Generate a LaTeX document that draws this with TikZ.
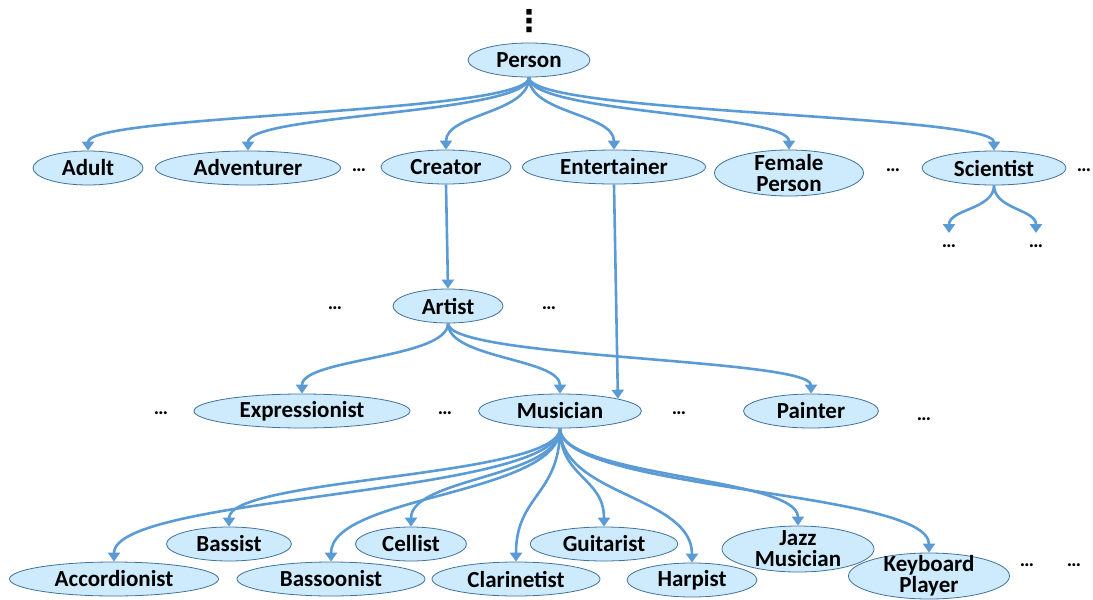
\documentclass[tikz,border=0pt]{standalone}
\usepackage{fontspec}
\setmainfont{Carlito}
\newfontfamily\symfont{DejaVu Sans}
\usetikzlibrary{shapes.geometric,arrows.meta,calc}
\definecolor{conceptfill}{HTML}{CDEBFC}
\definecolor{conceptline}{HTML}{41719C}
\definecolor{isablue}{HTML}{5B9BD5}
\tikzset{
  concept/.style={ellipse, draw=conceptline, fill=conceptfill, line width=0.8pt,
    inner sep=0pt, minimum height=34pt, align=center,
    font=\bfseries\fontsize{23}{21}\selectfont},
  twoline/.style={minimum height=46pt, inner ysep=-6pt},
  more/.style={inner sep=0pt, font=\bfseries\fontsize{20}{20}\selectfont},
  isa/.style={draw=isablue, line width=2.6pt, -{Triangle[width=12pt,length=9pt]}},
  bend down/.style={to path={.. controls ($(\tikztostart)!0.5!(\tikztostart|-\tikztotarget)$)
    and ($(\tikztotarget)!0.5!(\tikztotarget|-\tikztostart)$) .. (\tikztotarget)}}
}

\begin{document}
\begin{tikzpicture}[x=1pt,y=-1pt]
  \useasboundingbox (0,0) rectangle (1093,600);

  \node (top) at (529,21) {\symfont\bfseries\fontsize{30}{30}\selectfont ⋮};
  \node (P) [concept, minimum width=122pt] at (529,60) {Person};

  % first level
  \node (Adu) [concept, minimum width=110pt] at (88,168) {Adult};
  \node (Adv) [concept, minimum width=185pt] at (248,168) {Adventurer};
  \node (m1) [more] at (359,170) {…};
  \node (Cre) [concept, minimum width=130pt] at (446,167) {Creator};
  \node (Ent) [concept, minimum width=183pt] at (614,167) {Entertainer};
  \node (Fem) [concept, twoline, minimum width=149pt] at (789,173) {Female\\Person};
  \node (m2) [more] at (893,170) {…};
  \node (Sci) [concept, minimum width=144pt] at (994,168) {Scientist};
  \node (m3) [more] at (1084,170) {…};
  \coordinate (s1) at (949,233);
  \coordinate (s2) at (1036,233);
  \node (m4) [more] at (949,246) {…};
  \node (m5) [more] at (1036,246) {…};

  % second level
  \node (Art) [concept, minimum width=110pt] at (448,306) {Artist};
  \node (m6) [more] at (335,308) {…};
  \node (m7) [more] at (549,308) {…};

  \node (Exp) [concept, minimum width=216pt] at (302,411) {Expressionist};
  \node (Mus) [concept, minimum width=163pt] at (560,411) {Musician};
  \node (Pai) [concept, minimum width=135pt] at (811,411) {Painter};
  \node (m8) [more] at (161,413) {…};
  \node (m9) [more] at (445,413) {…};
  \node (m10) [more] at (679,413) {…};
  \node (m11) [more] at (924,419) {…};

  % musicians
  \node (Acc) [concept, minimum width=209pt] at (114,579) {Accordionist};
  \node (Bas) [concept, minimum width=125pt] at (229,544) {Bassist};
  \node (Bsn) [concept, minimum width=188pt] at (331,579) {Bassoonist};
  \node (Cel) [concept, minimum width=111pt] at (411,544) {Cellist};
  \node (Cla) [concept, minimum width=168pt] at (516,579) {Clarinetist};
  \node (Gui) [concept, minimum width=148pt] at (604,544) {Guitarist};
  \node (Har) [concept, minimum width=130pt] at (692,580) {Harpist};
  \node (Jaz) [concept, twoline, minimum width=152pt] at (798,549) {Jazz\\Musician};
  \node (Key) [concept, twoline, minimum width=161pt] at (929,576) {Keyboard\\Player};
  \node (m12) [more] at (1027,565) {…};
  \node (m13) [more] at (1074,565) {…};

  \foreach \c in {Adu,Adv,Cre,Ent,Fem,Sci}
    \draw[isa] (P.south) to[bend down] (\c.north);
  \draw[isa] (Sci.south) to[bend down] (s1);
  \draw[isa] (Sci.south) to[bend down] (s2);

  \draw[isa] (Cre.south) -- (Art.north);
  \draw[isa] (Ent.south) -- (Mus.north east);
  \foreach \c in {Exp,Mus,Pai}
    \draw[isa] (Art.south) to[bend down] (\c.north);

  \foreach \c in {Acc,Bas,Bsn,Cel,Cla,Gui,Har,Jaz,Key}
    \draw[isa] (Mus.south) to[bend down] (\c.north);
\end{tikzpicture}
\end{document}
